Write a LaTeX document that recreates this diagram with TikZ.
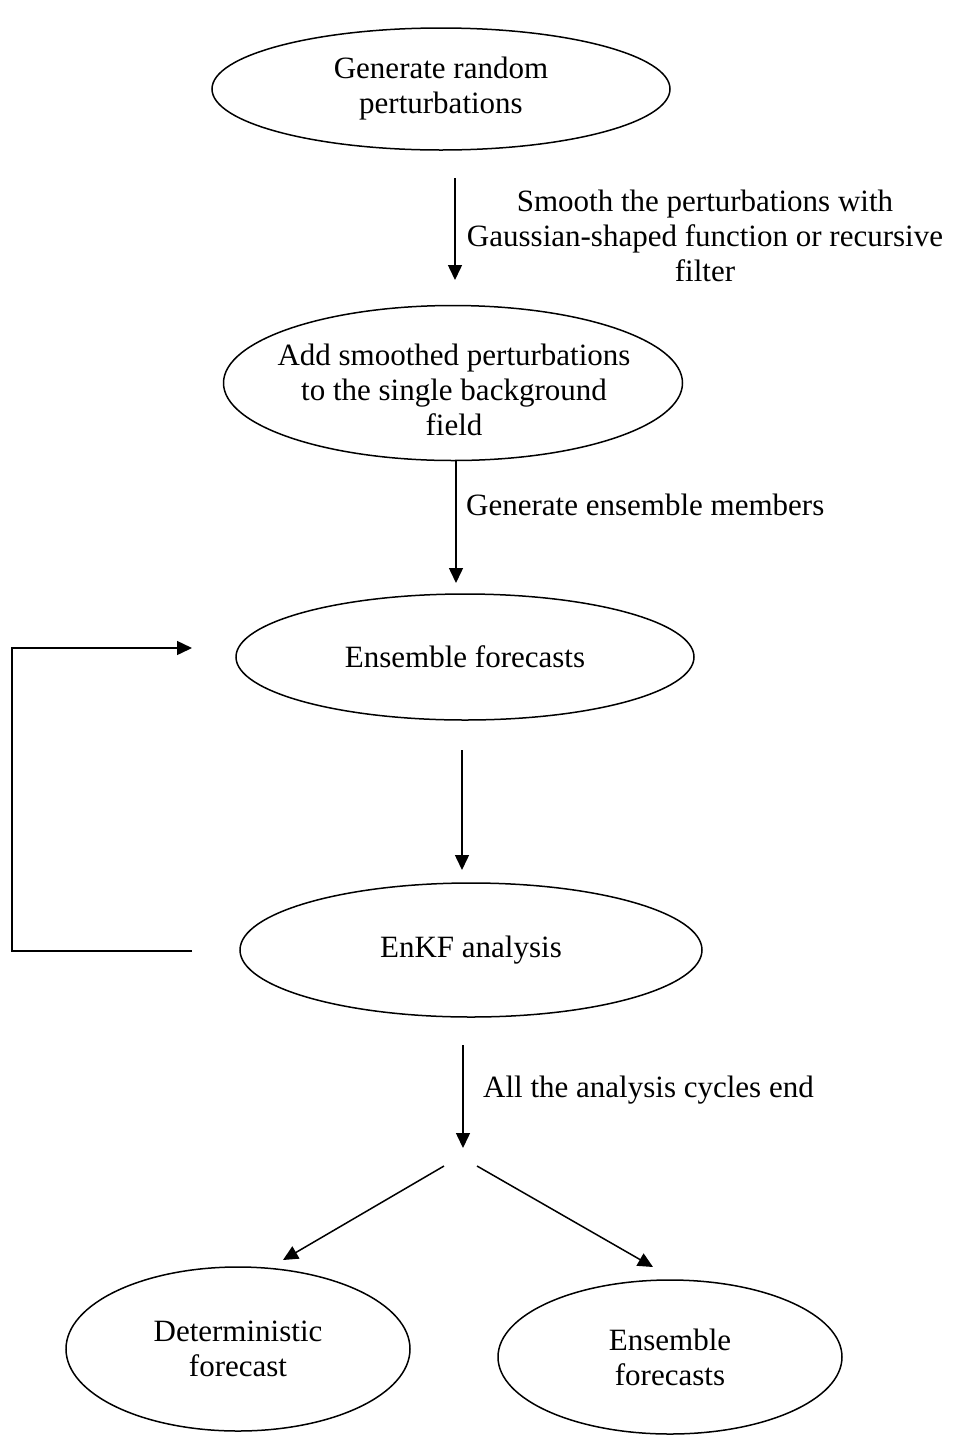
\documentclass[tikz,border=0pt]{standalone}
\usepackage{fontspec}
\setmainfont{Liberation Serif}
\usetikzlibrary{shapes.geometric,arrows.meta}
\begin{document}
\begin{tikzpicture}[x=1pt,y=-1pt,
  every node/.style={font=\fontsize{31}{35}\selectfont},
  oval/.style={draw,ellipse,line width=1.5pt,inner sep=0pt,align=center},
  arr/.style={line width=1.5pt,-{Triangle[length=15pt,width=14pt]}},
  lbl/.style={inner sep=0pt,align=center}]
\useasboundingbox (0,0) rectangle (953,1436);
% ovals
\node[oval,minimum width=458pt,minimum height=122pt] (e1) at (441,89) {Generate random\\perturbations};
\node[oval,minimum width=459pt,minimum height=155pt] (e2) at (453,383) {};
\node[lbl] (t2) at (454,390) {Add smoothed perturbations\\to the single background\\field};
\node[oval,minimum width=458pt,minimum height=126pt] (e3) at (465,657) {Ensemble forecasts};
\node[oval,minimum width=462pt,minimum height=134pt] (e4) at (471,950) {EnKF analysis};
\node[oval,minimum width=344pt,minimum height=164pt] (e5) at (238,1349) {Deterministic\\forecast};
\node[oval,minimum width=344pt,minimum height=154pt] (e6) at (670,1357) {Ensemble\\forecasts};
% connector end points
\coordinate (a1s) at (455,178); \coordinate (a1e) at (455,280);
\coordinate (a2s) at (456,460); \coordinate (a2e) at (456,583);
\coordinate (a3s) at (462,750); \coordinate (a3e) at (462,870);
\coordinate (a4s) at (463,1045); \coordinate (a4e) at (463,1148);
\coordinate (dls) at (444,1166); \coordinate (dle) at (283,1260);
\coordinate (drs) at (477,1166); \coordinate (dre) at (653,1267);
\coordinate (fb1) at (192,951); \coordinate (fb2) at (12,951);
\coordinate (fb4) at (192,648);
% connectors
\draw[arr] (a1s) -- (a1e);
\draw[arr] (a2s) -- (a2e);
\draw[arr] (a3s) -- (a3e);
\draw[arr] (a4s) -- (a4e);
\draw[arr] (dls) -- (dle);
\draw[arr] (drs) -- (dre);
\draw[arr] (fb1) -- (fb2) |- (fb4);
% labels
\node[lbl] (l1) at (705,236) {Smooth the perturbations with\\Gaussian-shaped function or recursive\\filter};
\node[lbl,anchor=west] (l2) at (466,505) {Generate ensemble members};
\node[lbl,anchor=west] (l3) at (483,1090) {All the analysis cycles end};
\end{tikzpicture}
\end{document}
